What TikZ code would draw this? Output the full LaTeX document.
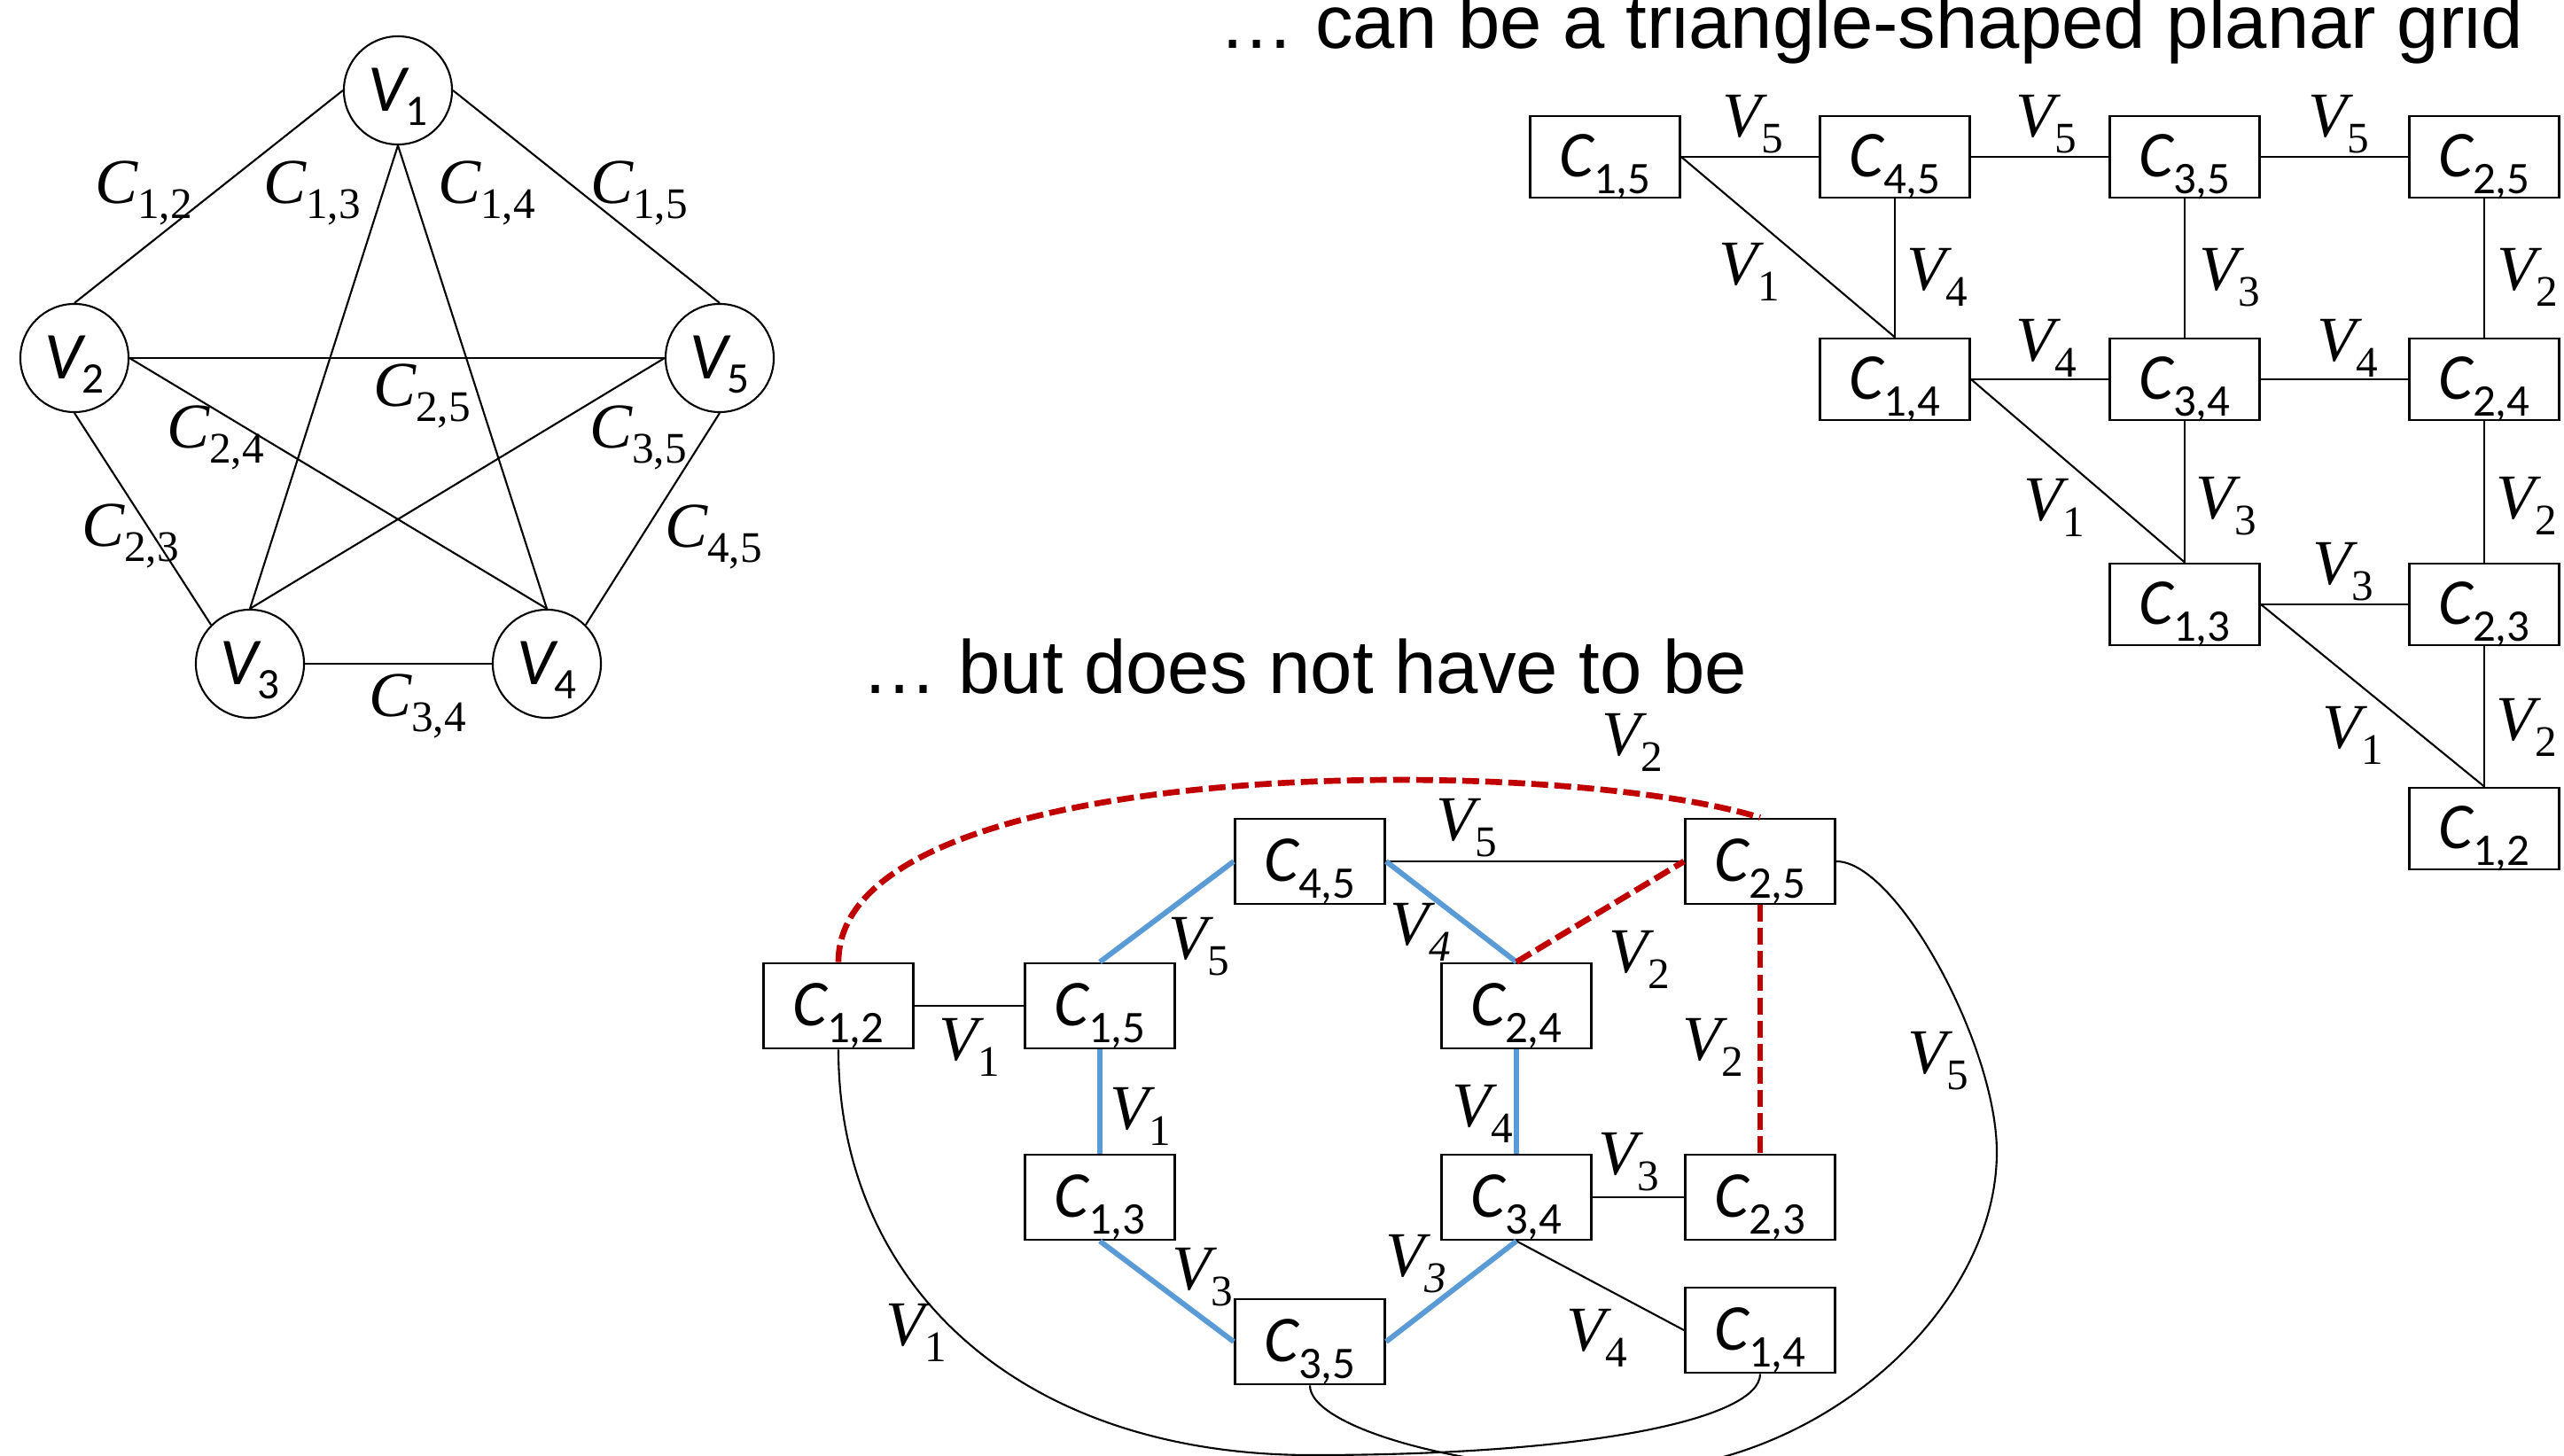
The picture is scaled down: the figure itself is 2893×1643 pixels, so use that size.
\documentclass[tikz,border=0pt]{standalone}
\usepackage{fontspec}
\setmainfont{Liberation Serif}
\newfontfamily\carl{Carlito}
\newfontfamily\arialf{Liberation Sans}
\newcommand\labT[2]{{\fontsize{20.5}{24}\selectfont\itshape #1}\raisebox{-5pt}{\fontsize{14}{16}\selectfont #2}}
\newcommand\labTi[2]{{\fontsize{20.5}{24}\selectfont\itshape #1\raisebox{-5pt}{\fontsize{14}{16}\selectfont #2}}}
\newcommand\labC[1]{{\carl\fontsize{21}{24}\selectfont\itshape C}\raisebox{-5.5pt}{\carl\fontsize{14.5}{16}\selectfont #1}}
\newcommand\labV[1]{{\carl\fontsize{21.5}{24}\selectfont\itshape V}\raisebox{-4.3pt}{\carl\fontsize{14}{16}\selectfont #1}}
\definecolor{myblue}{HTML}{5B9BD5}
\definecolor{myred}{HTML}{C00000}
\begin{document}
\begin{tikzpicture}[x=0.01cm, y=-0.01cm,
  circ/.style={circle, draw, line width=0.6pt, minimum size=1.22cm, inner sep=0pt, text height=16.6pt, text depth=3pt},
  gbox/.style={rectangle, draw, line width=0.8pt, minimum width=1.69cm, minimum height=0.92cm, inner sep=0pt, text height=15pt, text depth=2.4pt},
  bbox/.style={gbox, minimum height=0.96cm},
  lab/.style={inner sep=0pt},
  conn/.style={line width=0.6pt},
  bluee/.style={line width=1.7pt, draw=myblue},
  rede/.style={line width=1.9pt, draw=myred, dash pattern=on 5.4pt off 2pt},
  ttl/.style={anchor=base west, inner sep=0pt, text depth=0pt, font=\arialf\fontsize{24.2}{28}\selectfont}]
\useasboundingbox (0,0) rectangle (2893,1643);

% ---------------- pentagon ----------------
\node[circ] (V1) at (449,102) {\labV{1}};
\node[circ] (V2) at (84,404) {\labV{2}};
\node[circ] (V5) at (812,404) {\labV{5}};
\node[circ] (V3) at (282,749) {\labV{3}};
\node[circ] (V4) at (617,749) {\labV{4}};
\draw[conn] (V1.west) -- (V2.north);
\draw[conn] (V1.east) -- (V5.north);
\draw[conn] (V1.south) -- (V3.north);
\draw[conn] (V1.south) -- (V4.north);
\draw[conn] (V2.east) -- (V5.west);
\draw[conn] (V2.east) -- (V4.north);
\draw[conn] (V3.north) -- (V5.west);
\draw[conn] (V2.south) -- (V3.north west);
\draw[conn] (V5.south) -- (V4.north east);
\draw[conn] (V3.east) -- (V4.west);
\node[lab] (p12) at (162,218) {\labT{C}{1,2}};
\node[lab] (p13) at (352,218) {\labT{C}{1,3}};
\node[lab] (p14) at (549,218) {\labT{C}{1,4}};
\node[lab] (p15) at (721,218) {\labT{C}{1,5}};
\node[lab] (p25) at (476,447) {\labT{C}{2,5}};
\node[lab] (p24) at (243,494) {\labT{C}{2,4}};
\node[lab] (p35) at (720,494) {\labT{C}{3,5}};
\node[lab] (p23) at (147,605) {\labT{C}{2,3}};
\node[lab] (p45) at (805,606) {\labT{C}{4,5}};
\node[lab] (p34) at (471,797) {\labT{C}{3,4}};

% ---------------- titles ----------------
\node[ttl] (t1) at (1375,55) {… can be a triangle-shaped planar grid};
\node[ttl] (t2) at (972,783) {… but does not have to be};

% ---------------- triangle grid ----------------
\node[gbox] (g15) at (1811,177) {\labC{1,5}};
\node[gbox] (g45) at (2138,177) {\labC{4,5}};
\node[gbox] (g35) at (2465,177) {\labC{3,5}};
\node[gbox] (g25) at (2803,177) {\labC{2,5}};
\node[gbox] (g14) at (2138,428) {\labC{1,4}};
\node[gbox] (g34) at (2465,428) {\labC{3,4}};
\node[gbox] (g24) at (2803,428) {\labC{2,4}};
\node[gbox] (g13) at (2465,682) {\labC{1,3}};
\node[gbox] (g23) at (2803,682) {\labC{2,3}};
\node[gbox] (g12) at (2803,935) {\labC{1,2}};
\draw[conn] (g15.east) -- (g45.west);
\draw[conn] (g45.east) -- (g35.west);
\draw[conn] (g35.east) -- (g25.west);
\draw[conn] (g15.east) -- (g14.north);
\draw[conn] (g45.south) -- (g14.north);
\draw[conn] (g35.south) -- (g34.north);
\draw[conn] (g25.south) -- (g24.north);
\draw[conn] (g14.east) -- (g34.west);
\draw[conn] (g34.east) -- (g24.west);
\draw[conn] (g14.east) -- (g13.north);
\draw[conn] (g34.south) -- (g13.north);
\draw[conn] (g24.south) -- (g23.north);
\draw[conn] (g13.east) -- (g23.west);
\draw[conn] (g13.east) -- (g12.north);
\draw[conn] (g23.south) -- (g12.north);
\node[lab] at (1978,140) {\labT{V}{5}};
\node[lab] at (2309,140) {\labT{V}{5}};
\node[lab] at (2639,140) {\labT{V}{5}};
\node[lab] at (1974,307) {\labT{V}{1}};
\node[lab] at (2186,313) {\labT{V}{4}};
\node[lab] at (2516,313) {\labT{V}{3}};
\node[lab] at (2852,313) {\labT{V}{2}};
\node[lab] at (2309,393) {\labT{V}{4}};
\node[lab] at (2649,393) {\labT{V}{4}};
\node[lab] at (2318,573) {\labT{V}{1}};
\node[lab] at (2512,571) {\labT{V}{3}};
\node[lab] at (2851,571) {\labT{V}{2}};
\node[lab] at (2644,645) {\labT{V}{3}};
\node[lab] at (2655,830) {\labT{V}{1}};
\node[lab] at (2851,821) {\labT{V}{2}};

% ---------------- non-planar arrangement ----------------
\node[bbox] (b12) at (946,1135) {\labC{1,2}};
\node[bbox] (b15) at (1241,1135) {\labC{1,5}};
\node[bbox] (b45) at (1478,972) {\labC{4,5}};
\node[bbox] (b25) at (1986,972) {\labC{2,5}};
\node[bbox] (b24) at (1711,1135) {\labC{2,4}};
\node[bbox] (b13) at (1241,1351) {\labC{1,3}};
\node[bbox] (b34) at (1711,1351) {\labC{3,4}};
\node[bbox] (b23) at (1986,1351) {\labC{2,3}};
\node[bbox] (b35) at (1478,1514) {\labC{3,5}};
\node[bbox] (b14) at (1986,1501) {\labC{1,4}};
\draw[conn] (b12.east) -- (b15.west);
\draw[conn] (b45.east) -- (b25.west);
\draw[conn] (b34.east) -- (b23.west);
\draw[conn] (b34.south) -- (b14.west);
\draw[bluee] (b15.north) -- (b45.west);
\draw[bluee] (b45.east) -- (b24.north);
\draw[bluee] (b15.south) -- (b13.north);
\draw[bluee] (b24.south) -- (b34.north);
\draw[bluee] (b13.south) -- (b35.west);
\draw[bluee] (b35.east) -- (b34.south);
\draw[rede] (b24.north) -- (b25.west);
\draw[rede] (b25.south) -- (b23.north);
\draw[rede] (b12.north) .. controls (946,850) and (1750,850) .. (b25.north);
\draw[conn] (b12.south) .. controls (946,1450) and (1150,1642) .. (1480,1642)
  .. controls (1800,1642) and (1986,1600) .. (b14.south);
\draw[conn] (b35.south) .. controls (1478,1610) and (1650,1660) .. (1830,1660)
  .. controls (2050,1660) and (2253,1480) .. (2253,1300)
  .. controls (2253,1180) and (2140,972) .. (b25.east);
\node[lab] at (1842,838) {\labT{V}{2}};
\node[lab] at (1655,934) {\labT{V}{5}};
\node[lab] at (1353,1068) {\labT{V}{5}};
\node[lab] at (1603,1052) {\labTi{V}{4}};
\node[lab] at (1850,1083) {\labT{V}{2}};
\node[lab] at (1933,1182) {\labT{V}{2}};
\node[lab] at (1094,1182) {\labT{V}{1}};
\node[lab] at (1287,1260) {\labT{V}{1}};
\node[lab] at (1673,1257) {\labT{V}{4}};
\node[lab] at (1838,1311) {\labT{V}{3}};
\node[lab] at (1357,1441) {\labT{V}{3}};
\node[lab] at (1598,1426) {\labTi{V}{3}};
\node[lab] at (1034,1504) {\labT{V}{1}};
\node[lab] at (1802,1510) {\labT{V}{4}};
\node[lab] at (2187,1197) {\labT{V}{5}};
\end{tikzpicture}
\end{document}
